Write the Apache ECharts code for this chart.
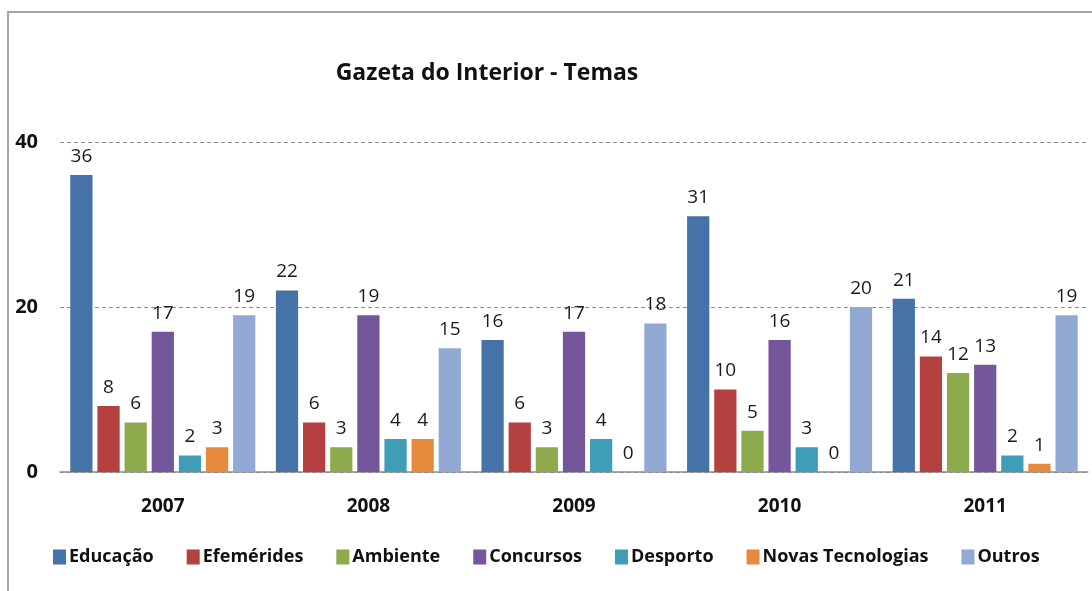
<!DOCTYPE html>
<html>
<head>
<meta charset="utf-8">
<script src="https://cdn.jsdelivr.net/npm/echarts@6/dist/echarts.min.js"></script>
<style>html,body{margin:0;padding:0;background:#fff;}#c{width:1092px;height:591px;}</style>
</head>
<body>
<div id="c"></div>
<script>
var categories = ['2007', '2008', '2009', '2010', '2011'];
var seriesNames = ['Educação', 'Efemérides', 'Ambiente', 'Concursos', 'Desporto', 'Novas Tecnologias', 'Outros'];
var educacao = [36, 22, 16, 31, 21];
var efemerides = [8, 6, 6, 10, 14];
var ambiente = [6, 3, 3, 5, 12];
var concursos = [17, 19, 17, 16, 13];
var desporto = [2, 4, 4, 3, 2];
var novasTecnologias = [3, 4, 0, 0, 1];
var outros = [19, 15, 18, 20, 19];
var yTicks = [0, 20, 40];

var values = [educacao, efemerides, ambiente, concursos, desporto, novasTecnologias, outros];
var colors = ['#4572A7', '#B4413F', '#8DAA4C', '#73579A', '#3F9DB7', '#E88A3C', '#92AAD3'];
var FONT = '"Open Sans", Lato, sans-serif';

var chart = echarts.init(document.getElementById('c'), null, {renderer: 'canvas'});
var series = seriesNames.map(function (n, i) {
  return {
    name: n,
    type: 'bar',
    data: values[i],
    barGap: '22%',
    barCategoryGap: '10%',
    itemStyle: {color: colors[i]},
    label: {
      show: true,
      position: 'top',
      distance: 9,
      fontFamily: FONT,
      fontSize: 19,
      color: '#1a1a1a'
    }
  };
});
chart.setOption({
  animation: false,
  backgroundColor: '#fff',
  color: colors,
  title: {
    text: 'Gazeta do Interior - Temas',
    left: 482,
    textAlign: 'center',
    top: 57,
    textStyle: {fontFamily: FONT, fontSize: 23, fontWeight: 'bold', color: '#111'}
  },
  graphic: [{
    type: 'rect',
    shape: {x: 8, y: 12, width: 1300, height: 800},
    style: {fill: 'none', stroke: '#A6A6A6', lineWidth: 2},
    silent: true,
    z: 100
  }],
  legend: {
    left: 48,
    top: 543,
    itemWidth: 13,
    itemHeight: 15,
    itemGap: 33,
    icon: 'rect',
    textStyle: {fontFamily: FONT, fontSize: 18, fontWeight: 'bold', color: '#111', padding: [0, 0, 0, -2]},
    data: seriesNames
  },
  grid: {left: 60, right: 4, top: 142, bottom: 119, containLabel: false},
  xAxis: {
    type: 'category',
    data: categories,
    axisTick: {show: false},
    axisLine: {lineStyle: {color: '#8c8c8c', width: 1.5}},
    axisLabel: {fontFamily: FONT, fontSize: 19, fontWeight: 'bold', color: '#111', margin: 25}
  },
  yAxis: {
    type: 'value',
    min: yTicks[0],
    max: yTicks[yTicks.length - 1],
    interval: yTicks[1] - yTicks[0],
    axisLine: {show: false},
    axisTick: {show: false},
    splitLine: {lineStyle: {color: '#8c8c8c', type: [4, 3], width: 1}},
    axisLabel: {fontFamily: FONT, fontSize: 20, fontWeight: 'bold', color: '#111', margin: 22}
  },
  series: series
});
</script>
</body>
</html>
